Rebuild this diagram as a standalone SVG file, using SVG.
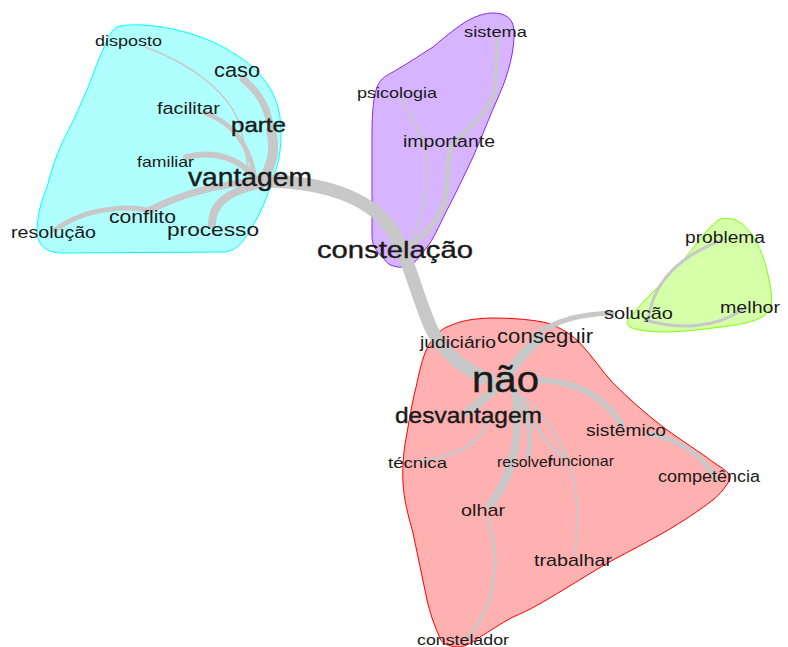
<svg xmlns="http://www.w3.org/2000/svg" width="788" height="647" viewBox="0 0 788 647">
<style>
.t{font-family:"Liberation Sans",Arial,sans-serif;fill:#1a1a1a;}
.b{stroke:#1a1a1a;stroke-width:0.4;}
.e{fill:none;stroke:#c8c8c8;stroke-linecap:round;}
</style>
<rect width="788" height="647" fill="#ffffff"/>
<g id="clusters">
<path id="cluster-cyan" d="M117,27 C140,20 200,30 233,53 C255,65 272,85 278,107 C283,125 282,160 273,177 C268,195 262,212 250,230 C243,242 238,250 225,252 L60,253 C42,252 36,240 37,230 C38,210 42,200 47,187 C53,165 58,150 67,133 C75,118 80,105 87,90 C93,75 97,62 103,50 C107,40 110,31 117,27 Z" fill="#b0ffff" stroke="#00ffff" stroke-width="1"/>
<path id="cluster-purple" d="M493,13 C505,13 513,18 514,30 C515,50 508,75 500,93 C490,115 482,137 473,157 C463,178 455,195 447,210 C438,228 433,240 427,247 C420,257 413,266 405,267 C395,268 388,265 385,260 C375,250 372,245 372,235 L372,133 C372,110 374,95 377,87 C381,78 387,75 393,72 C410,62 425,52 433,47 C447,35 460,25 467,21 C478,15 486,13 493,13 Z" fill="#d6b4ff" stroke="#8a2be2" stroke-width="1"/>
<path id="cluster-green" d="M720,219 C730,217 740,219 750,232 C760,245 766,262 770,285 C773,300 772,310 765,315 C755,322 740,325 713,328 C690,331 660,334 640,330 C628,328 624,324 630,318 C637,308 645,300 655,290 C668,276 680,265 690,252 C700,240 710,225 720,219 Z" fill="#d6ffaa" stroke="#7fff00" stroke-width="1"/>
<path id="cluster-red" d="M447,327 C458,322 467,319 490,318 C515,318 535,320 547,323 C562,328 572,335 580,343 C592,356 602,371 613,383 C628,398 645,413 663,427 C682,441 700,452 713,462 C725,470 732,474 730,479 C727,486 720,494 713,500 C697,512 682,522 663,533 C645,543 630,551 613,560 C595,570 580,580 563,590 C545,601 530,610 513,617 C500,624 490,631 480,637 C472,642 466,647 458,647 C448,646 442,644 440,638 C434,625 430,613 427,600 C422,578 418,555 413,533 C408,515 404,500 403,483 C402,465 404,448 407,433 C410,415 413,398 417,383 C420,368 424,352 430,343 C435,336 440,330 447,327 Z" fill="#ffb0b0" stroke="#ff0000" stroke-width="1"/>
</g>
<g id="connectors">
<path class="e" stroke-width="13" d="M268,181 C330,183 375,200 395,235 C410,262 418,300 432,330 C445,355 465,370 490,380"/>
<path class="e" stroke-width="10" d="M262,182 C272,165 276,150 271,130"/>
<path class="e" stroke-width="7" d="M271,130 C268,110 262,95 243,79"/>
<path class="e" stroke-width="5" d="M205,113 C230,122 248,140 255,178"/>
<path class="e" stroke-width="1.5" d="M145,47 C195,65 230,95 240,125 C245,145 246,160 250,178"/>
<path class="e" stroke-width="6" d="M186,157 C215,150 240,158 257,180"/>
<path class="e" stroke-width="7" d="M150,210 C180,195 215,184 260,181"/>
<path class="e" stroke-width="5" d="M55,230 C75,215 100,208 130,208 C140,208 146,210 152,211"/>
<path class="e" stroke-width="8" d="M212,224 C212,205 225,192 262,184"/>
<path class="e" stroke-width="5" d="M405,250 C430,230 445,215 447,190 C448,170 448,158 450,148"/>
<path class="e" stroke-width="4" d="M450,148 C470,125 492,110 495,90 C497,70 497,55 497,37"/>
<path class="e" stroke-width="2" d="M400,100 C418,120 428,150 427,175 C426,200 420,225 408,245"/>
<path class="e" stroke-width="10" d="M505,378 C515,365 525,350 540,338"/>
<path class="e" stroke-width="5" d="M535,335 C560,318 585,314 612,313"/>
<path class="e" stroke-width="3" d="M648,320 C652,290 670,260 720,241"/>
<path class="e" stroke-width="3" d="M645,320 C680,330 715,328 742,310"/>
<path class="e" stroke-width="6" d="M540,380 C580,382 605,398 622,425"/>
<path class="e" stroke-width="5" d="M650,434 C685,440 705,460 715,478"/>
<path class="e" stroke-width="9" d="M500,386 C488,395 478,403 468,412"/>
<path class="e" stroke-width="3" d="M487,420 C482,445 455,455 420,462"/>
<path class="e" stroke-width="8" d="M515,390 C520,425 518,470 490,505"/>
<path class="e" stroke-width="3" d="M487,518 C500,555 500,600 466,640"/>
<path class="e" stroke-width="5" d="M515,392 C530,415 532,440 528,455"/>
<path class="e" stroke-width="3" d="M522,398 C535,430 550,447 565,458"/>
<path class="e" stroke-width="2" d="M522,396 C560,428 577,470 577,510 C577,535 576,548 575,556"/>
</g>
<g id="nodes">
<g id="n-disposto"><text class="t" x="95" y="46" font-size="15" textLength="67" lengthAdjust="spacingAndGlyphs">disposto</text></g>
<g id="n-caso"><text class="t" x="214" y="77" font-size="20" textLength="46" lengthAdjust="spacingAndGlyphs">caso</text></g>
<g id="n-facilitar"><text class="t" x="157" y="114" font-size="16" textLength="63" lengthAdjust="spacingAndGlyphs">facilitar</text></g>
<g id="n-parte"><text class="t b" x="231" y="132" font-size="21" textLength="55" lengthAdjust="spacingAndGlyphs">parte</text></g>
<g id="n-familiar"><text class="t" x="137" y="167" font-size="15" textLength="57" lengthAdjust="spacingAndGlyphs">familiar</text></g>
<g id="n-vantagem"><text class="t b" x="188" y="186" font-size="25" textLength="124" lengthAdjust="spacingAndGlyphs">vantagem</text></g>
<g id="n-conflito"><text class="t" x="109" y="223" font-size="18" textLength="67" lengthAdjust="spacingAndGlyphs">conflito</text></g>
<g id="n-resolucao"><text class="t" x="11" y="238" font-size="16" textLength="85" lengthAdjust="spacingAndGlyphs">resolução</text></g>
<g id="n-processo"><text class="t" x="167" y="236" font-size="19" textLength="92" lengthAdjust="spacingAndGlyphs">processo</text></g>
<g id="n-sistema"><text class="t" x="464" y="37" font-size="15" textLength="63" lengthAdjust="spacingAndGlyphs">sistema</text></g>
<g id="n-psicologia"><text class="t" x="357" y="98" font-size="15" textLength="80" lengthAdjust="spacingAndGlyphs">psicologia</text></g>
<g id="n-importante"><text class="t" x="403" y="147" font-size="16" textLength="92" lengthAdjust="spacingAndGlyphs">importante</text></g>
<g id="n-constelacao"><text class="t b" x="317" y="258" font-size="24" textLength="156" lengthAdjust="spacingAndGlyphs">constelação</text></g>
<g id="n-problema"><text class="t" x="685" y="243" font-size="16" textLength="80" lengthAdjust="spacingAndGlyphs">problema</text></g>
<g id="n-melhor"><text class="t" x="720" y="313" font-size="16" textLength="60" lengthAdjust="spacingAndGlyphs">melhor</text></g>
<g id="n-solucao"><text class="t" x="604" y="319" font-size="17" textLength="69" lengthAdjust="spacingAndGlyphs">solução</text></g>
<g id="n-judiciario"><text class="t" x="420" y="348" font-size="16" textLength="76" lengthAdjust="spacingAndGlyphs">judiciário</text></g>
<g id="n-conseguir"><text class="t" x="497" y="343" font-size="20" textLength="96" lengthAdjust="spacingAndGlyphs">conseguir</text></g>
<g id="n-nao"><text class="t b" x="472" y="392" font-size="36" textLength="67" lengthAdjust="spacingAndGlyphs">não</text></g>
<g id="n-desvantagem"><text class="t b" x="395" y="423" font-size="22" textLength="147" lengthAdjust="spacingAndGlyphs">desvantagem</text></g>
<g id="n-sistemico"><text class="t" x="586" y="436" font-size="17" textLength="80" lengthAdjust="spacingAndGlyphs">sistêmico</text></g>
<g id="n-tecnica"><text class="t" x="388" y="468" font-size="15" textLength="59" lengthAdjust="spacingAndGlyphs">técnica</text></g>
<g id="n-resolver"><text class="t" x="497" y="467" font-size="15" textLength="56" lengthAdjust="spacingAndGlyphs">resolver</text></g>
<g id="n-funcionar"><text class="t" x="548" y="466" font-size="15" textLength="66" lengthAdjust="spacingAndGlyphs">funcionar</text></g>
<g id="n-competencia"><text class="t" x="658" y="482" font-size="16" textLength="102" lengthAdjust="spacingAndGlyphs">competência</text></g>
<g id="n-olhar"><text class="t" x="461" y="516" font-size="17" textLength="44" lengthAdjust="spacingAndGlyphs">olhar</text></g>
<g id="n-trabalhar"><text class="t" x="534" y="566" font-size="17" textLength="78" lengthAdjust="spacingAndGlyphs">trabalhar</text></g>
<g id="n-constelador"><text class="t" x="417" y="645" font-size="15" textLength="92" lengthAdjust="spacingAndGlyphs">constelador</text></g>
</g>
</svg>
